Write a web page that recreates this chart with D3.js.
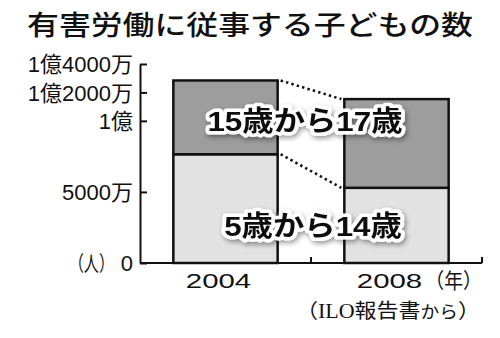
<!DOCTYPE html>
<html>
<head>
<meta charset="utf-8">
<script src="https://cdn.jsdelivr.net/npm/d3@7"></script>
<style>
body { margin: 0; background: #fff; }
</style>
</head>
<body>
<div id="chart"></div>
<script>
var years = ["2004", "2008"];
var age5to14 = [76.5e6, 52.9e6];
var age15to17 = [51.9e6, 62.4e6];
var seriesNames = ["5歳から14歳", "15歳から17歳"];
var tickValues = [0, 5e7, 1e8, 1.2e8, 1.4e8];
var tickLabels = ["0", "5000万", "1億", "1億2000万", "1億4000万"];
var colors = ["#e2e2e2", "#9d9d9d"];

var sans = "'Liberation Sans', 'Noto Sans CJK JP', sans-serif";
var serif = "'Liberation Serif', 'Noto Sans CJK JP', serif";

var svg = d3.select("#chart").append("svg")
	.attr("width", 500)
	.attr("height", 338)
	.style("display", "block");

var defs = svg.append("defs");
var shadow = defs.append("filter").attr("id", "halo")
	.attr("x", "-20%").attr("y", "-40%").attr("width", "140%").attr("height", "180%");
shadow.append("feDropShadow")
	.attr("dx", 1.5).attr("dy", 2.5).attr("stdDeviation", 2.5)
	.attr("flood-color", "#000").attr("flood-opacity", 0.4);

var x = d3.scaleBand().domain(years).range([140, 482]).padding(0);
var y = d3.scaleLinear().domain([0, 1.4e8]).range([263, 64]);
var bw = x.bandwidth() * 0.61;
var pad = (x.bandwidth() - bw) / 2;

// stacked bars
var table = years.map(function (yr, i) {
	return { year: yr, young: age5to14[i], old: age15to17[i] };
});
var stack = d3.stack().keys(["young", "old"])(table);

svg.selectAll("g.layer").data(stack).join("g")
	.attr("class", "layer")
	.attr("fill", function (d, i) { return colors[i]; })
	.selectAll("rect").data(function (d) { return d; }).join("rect")
	.attr("x", function (d) { return x(d.data.year) + pad; })
	.attr("y", function (d) { return y(d[1]); })
	.attr("width", bw)
	.attr("height", function (d) { return y(d[0]) - y(d[1]); })
	.attr("stroke", "#111")
	.attr("stroke-width", 2.5);

// dotted connectors
stack.forEach(function (layer) {
	svg.append("line")
		.attr("x1", x(years[0]) + pad + bw + 3)
		.attr("y1", y(layer[0][1]))
		.attr("x2", x(years[1]) + pad - 3)
		.attr("y2", y(layer[1][1]))
		.attr("stroke", "#111")
		.attr("stroke-width", 2.6)
		.attr("stroke-dasharray", "2.4,3.2");
});

// y axis
var yAxis = svg.append("g")
	.attr("transform", "translate(140,0)")
	.call(d3.axisLeft(y).tickValues(tickValues).tickSizeInner(-7).tickSizeOuter(0)
		.tickPadding(7)
		.tickFormat(function (d, i) { return tickLabels[i]; }));
yAxis.select(".domain").attr("stroke", "#111").attr("stroke-width", 2);
yAxis.selectAll(".tick line").attr("stroke", "#111").attr("stroke-width", 2);
yAxis.selectAll(".tick text")
	.attr("font-size", 22)
	.attr("font-family", sans)
	.attr("fill", "#111")
	.attr("dy", "0.36em");

// x axis
svg.append("line")
	.attr("x1", x.range()[0]).attr("x2", x.range()[1])
	.attr("y1", y(0)).attr("y2", y(0))
	.attr("stroke", "#111").attr("stroke-width", 2);
years.forEach(function (yr) {
	svg.append("line")
		.attr("x1", x(yr) + x.bandwidth()).attr("x2", x(yr) + x.bandwidth())
		.attr("y1", y(0)).attr("y2", y(0) - 6)
		.attr("stroke", "#111").attr("stroke-width", 2);
});

function label(px, py, str, size, sx, anchor, font) {
	return svg.append("text")
		.attr("transform", "translate(" + px + "," + py + ") scale(" + sx + ",1)")
		.attr("text-anchor", anchor)
		.attr("font-size", size)
		.attr("font-family", font || sans)
		.attr("fill", "#111")
		.text(str);
}

years.forEach(function (yr) {
	label(x(yr) + x.bandwidth() / 2 - 7, 288, yr, 21, 1.4, "middle");
});
label(x.range()[1], 288, "（年）", 21, 0.9, "end");
label(114, y(0) + 8, "（人）", 21, 0.72, "end");

// title
label(250, 35, "有害労働に従事する子どもの数", 27, 1.18, "middle")
	.attr("font-weight", 500);

// source
var src = label(480, 318, "（ILO報告書", 20, 1.1, "end", serif);
src.append("tspan").attr("font-size", 17).attr("font-family", sans).text("から");
src.append("tspan").text("）");

// series labels with white halo
var labelPos = [
	{ x: x(years[1]) + 2, y: y(2.6e7) },
	{ x: x(years[1]) - 6, y: y(1e8) }
];
seriesNames.forEach(function (name, i) {
	label(labelPos[i].x, labelPos[i].y + 10, name, 28, 1.12, "middle")
		.attr("font-weight", "bold")
		.attr("stroke", "#fff")
		.attr("stroke-width", 7)
		.attr("stroke-linejoin", "round")
		.attr("paint-order", "stroke")
		.attr("filter", "url(#halo)");
});
</script>
</body>
</html>
